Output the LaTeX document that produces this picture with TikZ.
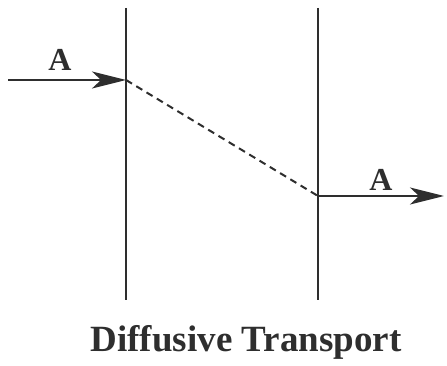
\documentclass[tikz,border=0pt]{standalone}
\usepackage{fontspec}
\setmainfont{Liberation Serif}
\usetikzlibrary{arrows.meta}
\begin{document}
\begin{tikzpicture}[x=1pt,y=-1pt,
  wall/.style={line width=2pt,color=black!82},
  flux/.style={line width=2pt,color=black!82,-{Stealth[length=34pt,width=17pt,inset=9pt]}},
  grad/.style={line width=2pt,color=black!82,dash pattern=on 7pt off 5pt},
  lbl/.style={font=\bfseries\fontsize{32}{34}\selectfont,text=black!82,inner sep=0pt}]
\useasboundingbox (0,0) rectangle (447,366);
\coordinate (w1t) at (126,8);
\coordinate (w1b) at (126,300);
\coordinate (w2t) at (318,8);
\coordinate (w2b) at (318,300);
\draw[wall] (w1t) -- (w1b);
\draw[wall] (w2t) -- (w2b);
\coordinate (inS) at (8,80);
\coordinate (p1) at (126,80);
\coordinate (p2) at (318,196);
\coordinate (outE) at (444,196);
\draw[flux] (inS) -- (p1);
\draw[grad] (p1) -- (p2);
\draw[flux] (p2) -- (outE);
\node[lbl] (a1) at (60,60) {A};
\node[lbl] (a2) at (381,180) {A};
\node[lbl,font=\bfseries\fontsize{37}{40}\selectfont] (title) at (246,342) {Diffusive Transport};
\end{tikzpicture}
\end{document}
